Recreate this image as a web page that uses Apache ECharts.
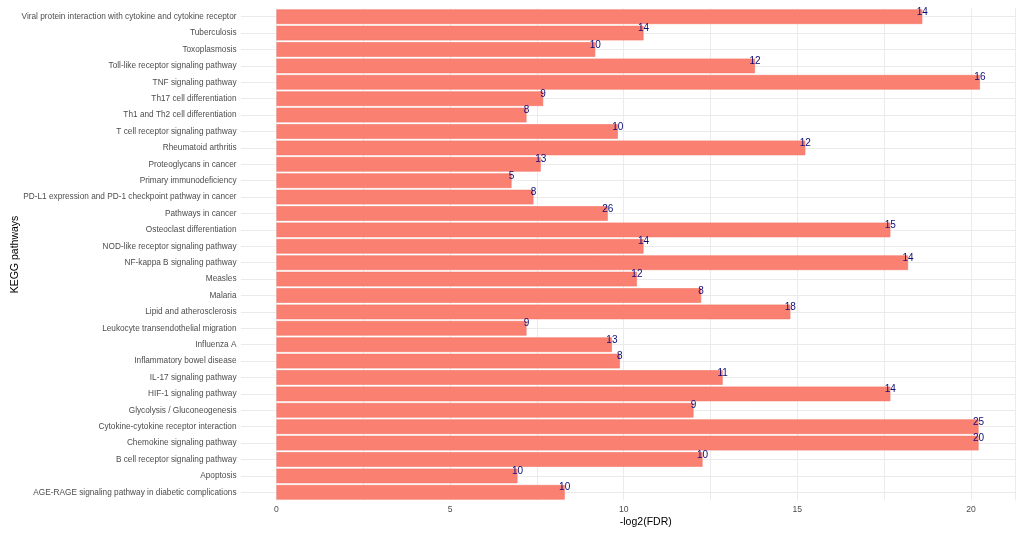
<!DOCTYPE html>
<html>
<head>
<meta charset="utf-8">
<script src="https://cdn.jsdelivr.net/npm/echarts@6/dist/echarts.min.js"></script>
<style>html,body{margin:0;padding:0;background:#fff}#c{width:1021px;height:533px}</style>
</head>
<body>
<div id="c"></div>
<script>
// categories listed bottom to top
var categories = [
  "AGE-RAGE signaling pathway in diabetic complications",
  "Apoptosis",
  "B cell receptor signaling pathway",
  "Chemokine signaling pathway",
  "Cytokine-cytokine receptor interaction",
  "Glycolysis / Gluconeogenesis",
  "HIF-1 signaling pathway",
  "IL-17 signaling pathway",
  "Inflammatory bowel disease",
  "Influenza A",
  "Leukocyte transendothelial migration",
  "Lipid and atherosclerosis",
  "Malaria",
  "Measles",
  "NF-kappa B signaling pathway",
  "NOD-like receptor signaling pathway",
  "Osteoclast differentiation",
  "Pathways in cancer",
  "PD-L1 expression and PD-1 checkpoint pathway in cancer",
  "Primary immunodeficiency",
  "Proteoglycans in cancer",
  "Rheumatoid arthritis",
  "T cell receptor signaling pathway",
  "Th1 and Th2 cell differentiation",
  "Th17 cell differentiation",
  "TNF signaling pathway",
  "Toll-like receptor signaling pathway",
  "Toxoplasmosis",
  "Tuberculosis",
  "Viral protein interaction with cytokine and cytokine receptor"
];
var negLog2FDR = [
  8.30, 6.94, 12.27, 20.22, 20.22, 12.01, 17.68, 12.85, 9.89, 9.66,
  7.20, 14.80, 12.23, 10.38, 18.19, 10.57, 17.68, 9.54, 7.40, 6.77,
  7.61, 15.23, 9.83, 7.20, 7.68, 20.26, 13.78, 9.18, 10.57, 18.60
];
var geneCounts = [
  10, 10, 10, 20, 25, 9, 14, 11, 8, 13,
  9, 18, 8, 12, 14, 14, 15, 26, 8, 5,
  13, 12, 10, 8, 9, 16, 12, 10, 14, 14
];
var xTicks = [0, 5, 10, 15, 20];

var font = "'Liberation Sans', Arial, sans-serif";
var chart = echarts.init(document.getElementById('c'), null, {renderer: 'canvas'});
chart.setOption({
  animation: false,
  backgroundColor: '#ffffff',
  grid: [
    {left: 276.5, right: 6, top: 8.5, height: 492, containLabel: false, outerBoundsMode: 'none'},
    {left: 241, right: 6, top: 8.5, height: 492, containLabel: false, outerBoundsMode: 'none'}
  ],
  xAxis: [
    {
      gridIndex: 0, type: 'value', min: 0, max: 21.27, interval: 2.5,
      name: '-log2(FDR)', nameLocation: 'middle', nameGap: 16, nameMoveOverlap: false,
      nameTextStyle: {fontFamily: font, fontSize: 10.5, color: '#000'},
      axisLine: {show: false}, axisTick: {show: false},
      axisLabel: {
        fontFamily: font, fontSize: 8.6, color: '#4d4d4d', margin: 5,
        showMaxLabel: false,
        formatter: function (v) { return xTicks.indexOf(v) >= 0 ? String(v) : ''; }
      },
      splitLine: {show: true, lineStyle: {color: '#ebebeb', width: 1}}
    },
    {
      gridIndex: 1, type: 'value', min: 0, max: 1, show: false
    }
  ],
  yAxis: [
    {
      gridIndex: 0, type: 'category', data: categories,
      name: 'KEGG pathways', nameLocation: 'middle', nameGap: 256, nameRotate: 90, nameMoveOverlap: false,
      nameTextStyle: {fontFamily: font, fontSize: 10.5, color: '#000'},
      axisLine: {show: false}, axisTick: {show: false},
      axisLabel: {fontFamily: font, fontSize: 8.25, color: '#4d4d4d', margin: 40},
      splitLine: {show: false}
    },
    {
      gridIndex: 1, type: 'value', min: 0, max: 60, interval: 1,
      axisLine: {show: false}, axisTick: {show: false}, axisLabel: {show: false},
      splitLine: {show: true, lineStyle: {color: ['rgba(0,0,0,0)', '#ebebeb'], width: 1}}
    }
  ],
  series: [{
    type: 'bar',
    xAxisIndex: 0, yAxisIndex: 0,
    data: negLog2FDR,
    barCategoryGap: '11%',
    itemStyle: {color: '#FA8072', borderColor: '#f47565', borderWidth: 0.6},
    label: {
      show: true,
      position: ['100%', '18%'],
      align: 'center', verticalAlign: 'middle',
      fontFamily: font, fontSize: 10, color: '#0c0c78',
      formatter: function (p) { return geneCounts[p.dataIndex]; }
    },
    z: 3
  }]
});
</script>
</body>
</html>
